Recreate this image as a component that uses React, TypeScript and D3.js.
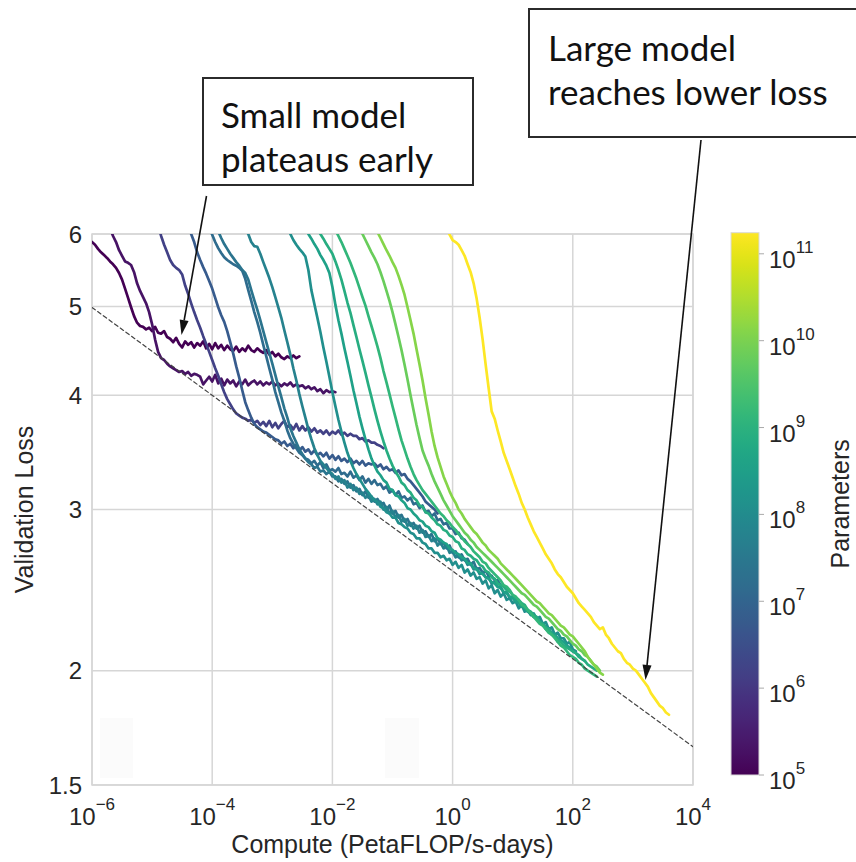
import React from "react";
import * as d3 from "d3";

// Axis ticks
const computeTickExps = [-6, -4, -2, 0, 2, 4];
const lossTicks = [1.5, 2, 3, 4, 5, 6];
const paramTickExps = [5, 6, 7, 8, 9, 10, 11];

// Each run is logged every 0.05 decades of compute, starting at runStartLog10
const LOG_STEP = 0.05;

const modelParams = [1e5, 2e5, 1.6e6, 6e6, 1.5e7, 2.5e7, 6e7, 1.25e8, 3.5e8, 7.6e8, 1.3e9, 6.7e9, 1.3e10, 1.75e11];
const runStartLog10 = [-6.0, -5.7, -4.9, -4.4, -4.05, -3.9, -3.45, -2.75, -2.45, -2.25, -1.95, -1.55, -1.3, -0.1];

const loss100K = [5.88, 5.84, 5.78, 5.73, 5.69, 5.65, 5.6, 5.56, 5.51, 5.44, 5.35, 5.23, 5.11, 4.99, 4.88, 4.8, 4.76, 4.75, 4.72, 4.74, 4.7, 4.75, 4.68, 4.67, 4.7, 4.63, 4.61, 4.57, 4.62, 4.55, 4.51, 4.58, 4.54, 4.57, 4.51, 4.56, 4.53, 4.58, 4.5, 4.55, 4.49, 4.56, 4.5, 4.54, 4.48, 4.53, 4.49, 4.47, 4.52, 4.46, 4.5, 4.47, 4.53, 4.48, 4.46, 4.5, 4.47, 4.45, 4.48, 4.43, 4.46, 4.41, 4.44, 4.4, 4.38, 4.41, 4.39, 4.42, 4.39, 4.41];
const loss200K = [6.09, 5.97, 5.88, 5.76, 5.68, 5.6, 5.58, 5.55, 5.45, 5.3, 5.2, 5.12, 5.04, 4.93, 4.78, 4.6, 4.46, 4.39, 4.37, 4.33, 4.3, 4.28, 4.26, 4.24, 4.25, 4.22, 4.24, 4.2, 4.22, 4.21, 4.19, 4.11, 4.15, 4.19, 4.14, 4.21, 4.12, 4.17, 4.1, 4.16, 4.12, 4.15, 4.09, 4.14, 4.11, 4.16, 4.1, 4.13, 4.15, 4.11, 4.14, 4.1, 4.13, 4.11, 4.14, 4.1, 4.12, 4.09, 4.12, 4.1, 4.13, 4.09, 4.11, 4.09, 4.1, 4.07, 4.09, 4.06, 4.08, 4.04, 4.06, 4.02, 4.05, 4.03, 4.04, 4.03];
const loss1p6M = [6.13, 5.97, 5.84, 5.73, 5.62, 5.55, 5.51, 5.48, 5.42, 5.27, 5.16, 5.04, 4.93, 4.83, 4.74, 4.64, 4.55, 4.46, 4.37, 4.28, 4.2, 4.11, 4.03, 3.96, 3.91, 3.86, 3.82, 3.8, 3.78, 3.77, 3.75, 3.76, 3.73, 3.75, 3.71, 3.74, 3.7, 3.75, 3.69, 3.73, 3.68, 3.72, 3.75, 3.69, 3.71, 3.67, 3.72, 3.66, 3.7, 3.66, 3.69, 3.65, 3.68, 3.64, 3.66, 3.63, 3.66, 3.62, 3.65, 3.63, 3.66, 3.62, 3.64, 3.61, 3.63, 3.61, 3.61, 3.58, 3.59, 3.56, 3.57, 3.55, 3.55, 3.53, 3.52, 3.5];
const loss6M = [6.13, 6.0, 5.88, 5.73, 5.62, 5.52, 5.43, 5.33, 5.23, 5.11, 4.99, 4.89, 4.81, 4.7, 4.57, 4.44, 4.3, 4.18, 4.05, 3.93, 3.85, 3.78, 3.72, 3.69, 3.67, 3.65, 3.64, 3.62, 3.6, 3.58, 3.57, 3.54, 3.56, 3.52, 3.54, 3.5, 3.53, 3.48, 3.51, 3.47, 3.49, 3.45, 3.48, 3.44, 3.46, 3.43, 3.46, 3.41, 3.44, 3.4, 3.43, 3.39, 3.41, 3.38, 3.41, 3.37, 3.39, 3.36, 3.39, 3.35, 3.37, 3.36, 3.37, 3.34, 3.36, 3.32, 3.34, 3.31, 3.32, 3.29, 3.31, 3.27, 3.28, 3.24, 3.22, 3.19, 3.16, 3.13, 3.1, 3.06, 3.04, 3.02, 3.0, 2.97];
const loss15M = [6.09, 5.99, 5.88, 5.79, 5.72, 5.66, 5.62, 5.59, 5.56, 5.54, 5.51, 5.47, 5.36, 5.21, 5.07, 4.93, 4.81, 4.68, 4.54, 4.41, 4.28, 4.16, 4.03, 3.93, 3.83, 3.75, 3.66, 3.59, 3.54, 3.5, 3.46, 3.44, 3.41, 3.4, 3.37, 3.39, 3.35, 3.38, 3.33, 3.36, 3.31, 3.32, 3.3, 3.33, 3.28, 3.29, 3.26, 3.3, 3.25, 3.27, 3.23, 3.26, 3.21, 3.24, 3.2, 3.23, 3.19, 3.2, 3.16, 3.18, 3.13, 3.15, 3.11, 3.14, 3.09, 3.1, 3.07, 3.09, 3.04, 3.05, 3.01, 3.03, 2.98, 2.99, 2.95, 2.97, 2.92, 2.93, 2.89, 2.9, 2.86, 2.86, 2.82, 2.83, 2.79, 2.78, 2.75];
const loss25M = [6.04, 5.94, 5.85, 5.78, 5.71, 5.65, 5.59, 5.54, 5.48, 5.44, 5.35, 5.21, 5.08, 4.96, 4.83, 4.7, 4.57, 4.45, 4.33, 4.21, 4.09, 3.98, 3.87, 3.78, 3.68, 3.61, 3.55, 3.49, 3.45, 3.41, 3.38, 3.36, 3.33, 3.34, 3.3, 3.31, 3.28, 3.3, 3.26, 3.26, 3.22, 3.24, 3.2, 3.22, 3.17, 3.19, 3.14, 3.16, 3.11, 3.14, 3.09, 3.1, 3.06, 3.08, 3.04, 3.05, 3.0, 3.03, 2.97, 2.99, 2.94, 2.96, 2.91, 2.93, 2.88, 2.9, 2.86, 2.88, 2.83, 2.84, 2.8, 2.82, 2.77, 2.79, 2.75, 2.76, 2.72, 2.74, 2.69, 2.7, 2.66, 2.68, 2.64, 2.65, 2.61, 2.63, 2.58, 2.59, 2.56, 2.57, 2.54, 2.54, 2.51, 2.51, 2.48];
const loss60M = [6.07, 6.0, 5.88, 5.82, 5.81, 5.71, 5.59, 5.48, 5.37, 5.25, 5.12, 4.99, 4.86, 4.71, 4.57, 4.43, 4.28, 4.15, 4.01, 3.89, 3.78, 3.67, 3.58, 3.5, 3.44, 3.39, 3.36, 3.33, 3.3, 3.28, 3.24, 3.26, 3.21, 3.23, 3.17, 3.2, 3.15, 3.17, 3.12, 3.13, 3.09, 3.11, 3.06, 3.08, 3.04, 3.06, 3.0, 3.02, 2.97, 2.99, 2.94, 2.96, 2.91, 2.93, 2.88, 2.9, 2.86, 2.88, 2.83, 2.85, 2.8, 2.81, 2.77, 2.79, 2.74, 2.76, 2.72, 2.74, 2.69, 2.7, 2.66, 2.67, 2.64, 2.65, 2.61, 2.62, 2.58, 2.59, 2.55, 2.56, 2.53, 2.53, 2.49, 2.5, 2.47, 2.47, 2.43, 2.44, 2.4, 2.41, 2.38, 2.38, 2.35, 2.35, 2.32, 2.31, 2.29, 2.28, 2.26, 2.25, 2.22, 2.21, 2.19, 2.18, 2.15];
const loss125M = [6.09, 6.0, 5.91, 5.84, 5.78, 5.73, 5.67, 5.48, 5.21, 5.03, 4.86, 4.69, 4.51, 4.35, 4.19, 4.03, 3.89, 3.76, 3.65, 3.55, 3.46, 3.39, 3.33, 3.28, 3.24, 3.2, 3.16, 3.13, 3.1, 3.07, 3.06, 3.02, 3.01, 2.98, 2.97, 2.94, 2.94, 2.9, 2.89, 2.87, 2.86, 2.83, 2.82, 2.79, 2.79, 2.76, 2.75, 2.72, 2.72, 2.69, 2.69, 2.66, 2.67, 2.64, 2.65, 2.61, 2.63, 2.59, 2.61, 2.56, 2.58, 2.54, 2.56, 2.52, 2.53, 2.49, 2.51, 2.46, 2.48, 2.43, 2.45, 2.41, 2.43, 2.39, 2.4, 2.37, 2.38, 2.34, 2.36, 2.32, 2.33, 2.3, 2.31, 2.28, 2.29, 2.25, 2.26, 2.22, 2.23, 2.19, 2.2, 2.17, 2.17, 2.14, 2.15, 2.11, 2.1];
const loss350M = [6.09, 6.0, 5.93, 5.85, 5.78, 5.69, 5.62, 5.54, 5.44, 5.25, 5.02, 4.83, 4.67, 4.5, 4.35, 4.2, 4.05, 3.92, 3.79, 3.68, 3.58, 3.49, 3.41, 3.35, 3.3, 3.27, 3.23, 3.21, 3.16, 3.15, 3.11, 3.1, 3.07, 3.05, 3.01, 3.0, 2.97, 2.95, 2.92, 2.91, 2.88, 2.87, 2.84, 2.83, 2.79, 2.78, 2.76, 2.75, 2.72, 2.71, 2.69, 2.68, 2.66, 2.65, 2.62, 2.62, 2.59, 2.58, 2.56, 2.55, 2.53, 2.52, 2.5, 2.49, 2.47, 2.46, 2.44, 2.43, 2.41, 2.4, 2.38, 2.37, 2.35, 2.34, 2.32, 2.31, 2.29, 2.28, 2.26, 2.25, 2.23, 2.22, 2.2, 2.19, 2.17, 2.16, 2.15, 2.13, 2.12, 2.1, 2.09, 2.08, 2.06, 2.05];
const loss760M = [6.07, 6.0, 5.93, 5.85, 5.78, 5.71, 5.6, 5.48, 5.35, 5.2, 5.05, 4.92, 4.77, 4.63, 4.49, 4.36, 4.23, 4.1, 3.98, 3.86, 3.75, 3.65, 3.56, 3.48, 3.41, 3.35, 3.3, 3.26, 3.21, 3.19, 3.15, 3.13, 3.09, 3.07, 3.03, 3.02, 2.98, 2.97, 2.94, 2.92, 2.89, 2.88, 2.85, 2.84, 2.81, 2.8, 2.77, 2.76, 2.72, 2.71, 2.68, 2.67, 2.65, 2.64, 2.61, 2.6, 2.57, 2.56, 2.53, 2.52, 2.49, 2.48, 2.47, 2.45, 2.44, 2.42, 2.4, 2.39, 2.37, 2.36, 2.33, 2.32, 2.3, 2.29, 2.26, 2.25, 2.23, 2.22, 2.19, 2.18, 2.16, 2.15, 2.13, 2.12, 2.11, 2.1, 2.09, 2.07, 2.06, 2.05, 2.03, 2.02, 2.01, 2.0];
const loss1p3B = [6.06, 5.97, 5.88, 5.78, 5.68, 5.58, 5.47, 5.36, 5.24, 5.12, 5.01, 4.88, 4.76, 4.64, 4.52, 4.39, 4.25, 4.13, 4.01, 3.89, 3.78, 3.67, 3.57, 3.49, 3.41, 3.34, 3.28, 3.23, 3.19, 3.15, 3.12, 3.09, 3.06, 3.03, 3.0, 2.97, 2.95, 2.92, 2.9, 2.87, 2.85, 2.82, 2.8, 2.77, 2.75, 2.73, 2.7, 2.68, 2.66, 2.63, 2.62, 2.59, 2.57, 2.55, 2.53, 2.51, 2.48, 2.47, 2.45, 2.42, 2.41, 2.39, 2.36, 2.35, 2.33, 2.31, 2.29, 2.27, 2.25, 2.24, 2.22, 2.2, 2.19, 2.17, 2.15, 2.13, 2.12, 2.1, 2.08, 2.07, 2.06, 2.04, 2.03, 2.01, 2.0, 1.99, 1.98, 1.97];
const loss6p7B = [6.09, 6.0, 5.91, 5.82, 5.73, 5.65, 5.56, 5.45, 5.33, 5.2, 5.07, 4.93, 4.78, 4.63, 4.48, 4.32, 4.16, 4.0, 3.85, 3.71, 3.59, 3.48, 3.41, 3.35, 3.28, 3.22, 3.17, 3.12, 3.07, 3.03, 2.99, 2.95, 2.92, 2.89, 2.86, 2.83, 2.81, 2.78, 2.76, 2.73, 2.71, 2.69, 2.67, 2.65, 2.63, 2.61, 2.59, 2.57, 2.55, 2.53, 2.51, 2.49, 2.47, 2.45, 2.43, 2.42, 2.4, 2.38, 2.36, 2.35, 2.33, 2.31, 2.29, 2.28, 2.26, 2.24, 2.22, 2.21, 2.19, 2.18, 2.16, 2.14, 2.13, 2.11, 2.1, 2.08, 2.07, 2.05, 2.03, 2.02, 2.0];
const loss13B = [6.12, 6.03, 5.94, 5.85, 5.76, 5.68, 5.59, 5.51, 5.4, 5.28, 5.15, 4.99, 4.83, 4.67, 4.49, 4.32, 4.15, 3.97, 3.81, 3.65, 3.52, 3.42, 3.34, 3.26, 3.2, 3.14, 3.09, 3.05, 3.0, 2.97, 2.93, 2.9, 2.87, 2.84, 2.82, 2.79, 2.76, 2.74, 2.71, 2.69, 2.67, 2.65, 2.62, 2.6, 2.58, 2.56, 2.54, 2.52, 2.5, 2.48, 2.46, 2.44, 2.42, 2.4, 2.38, 2.37, 2.35, 2.33, 2.31, 2.3, 2.28, 2.26, 2.24, 2.23, 2.21, 2.19, 2.18, 2.16, 2.14, 2.12, 2.1, 2.07, 2.05, 2.03, 2.01, 1.99, 1.98];
const loss175B = [6.07, 5.99, 5.91, 5.88, 5.84, 5.76, 5.68, 5.56, 5.45, 5.3, 5.1, 4.86, 4.6, 4.32, 4.07, 3.84, 3.77, 3.66, 3.56, 3.46, 3.39, 3.32, 3.25, 3.18, 3.12, 3.05, 3.0, 2.94, 2.89, 2.84, 2.8, 2.76, 2.72, 2.68, 2.65, 2.62, 2.58, 2.55, 2.53, 2.5, 2.47, 2.45, 2.43, 2.4, 2.37, 2.35, 2.33, 2.31, 2.29, 2.26, 2.24, 2.22, 2.23, 2.19, 2.17, 2.14, 2.12, 2.1, 2.09, 2.06, 2.04, 2.03, 2.01, 2.0, 1.98, 1.96, 1.94, 1.92, 1.89, 1.87, 1.85, 1.83, 1.82, 1.8, 1.79];

const lossRuns = [loss100K, loss200K, loss1p6M, loss6M, loss15M, loss25M, loss60M, loss125M, loss350M, loss760M, loss1p3B, loss6p7B, loss13B, loss175B];

// Compute-efficient frontier: L = 2.57 * C^-0.048
const frontierCoef = 2.57;
const frontierExp = -0.048;
const frontierRange = [1e-6, 1e4];

const AXIS_FONT = "'Liberation Sans', Arial, Helvetica, sans-serif";
const NOTE_FONT = "Lato, 'Open Sans', sans-serif";
const TEXT_COLOR = "#262626";
const GRID_COLOR = "#d6d6d6";

function Arrow({ x1, y1, x2, y2 }: { x1: number; y1: number; x2: number; y2: number }) {
  const ang = Math.atan2(y2 - y1, x2 - x1);
  const hl = 15;
  const hw = 4.5;
  const bx = x2 - hl * Math.cos(ang);
  const by = y2 - hl * Math.sin(ang);
  const px = -Math.sin(ang) * hw;
  const py = Math.cos(ang) * hw;
  return (
    <g>
      <line x1={x1} y1={y1} x2={bx} y2={by} stroke="#111" strokeWidth={1.6} />
      <polygon points={`${x2},${y2} ${bx + px},${by + py} ${bx - px},${by - py}`} fill="#111" />
    </g>
  );
}

function Pow10({ exp, ...rest }: any) {
  const e = exp < 0 ? `\u2212${-exp}` : `${exp}`;
  return (
    <text {...rest} fontFamily={AXIS_FONT} fill={TEXT_COLOR}>
      <tspan fontSize={24}>10</tspan>
      <tspan fontSize={17} dy={-15}>{e}</tspan>
    </text>
  );
}

export default function App() {
  const left = 92, right = 693, top = 234, bottom = 785;
  const cbLeft = 731, cbRight = 759, cbTop = 232.7, cbBottom = 775;

  const x = d3.scaleLog().domain([1e-6, 1e4]).range([left, right]);
  const y = d3.scaleLog().domain([1.5, 6]).range([bottom, top]);
  const pMin = 1e5, pMax = 1.75e11;
  const py = d3.scaleLog().domain([pMin, pMax]).range([cbBottom, cbTop]);
  const color = d3.scaleSequentialLog(d3.interpolateViridis).domain([pMin, pMax]);

  const line = d3
    .line<[number, number]>()
    .x((d) => x(d[0]))
    .y((d) => y(d[1]));

  const runs = lossRuns.map((losses, i) => ({
    params: modelParams[i],
    points: losses.map((l, j) => [Math.pow(10, runStartLog10[i] + j * LOG_STEP), l] as [number, number]),
  }));

  const frontierPts = frontierRange.map((c) => [c, frontierCoef * Math.pow(c, frontierExp)] as [number, number]);

  const stops = d3.range(0, 1.0001, 0.02);

  return (
    <svg
      width={856}
      height={862}
      style={{ position: "absolute", left: 0, top: 0, background: "#fff" }}
      xmlns="http://www.w3.org/2000/svg"
    >
      <defs>
        <clipPath id="plotClip">
          <rect x={left} y={top} width={right - left} height={bottom - top} />
        </clipPath>
        <linearGradient id="viridisBar" x1="0" y1="1" x2="0" y2="0">
          {stops.map((t) => (
            <stop key={t} offset={t} stopColor={d3.interpolateViridis(t)} />
          ))}
        </linearGradient>
      </defs>
      <rect x={0} y={0} width={856} height={862} fill="#fff" />

      {/* grid */}
      {computeTickExps.map((e) => (
        <line key={`gx${e}`} x1={x(10 ** e)} x2={x(10 ** e)} y1={top} y2={bottom} stroke={GRID_COLOR} strokeWidth={1.5} />
      ))}
      {lossTicks.map((v) => (
        <line key={`gy${v}`} x1={left} x2={right} y1={y(v)} y2={y(v)} stroke={GRID_COLOR} strokeWidth={1.5} />
      ))}
      <rect x={left} y={top} width={right - left} height={bottom - top} fill="none" stroke={GRID_COLOR} strokeWidth={1.5} />

      <rect x={100} y={718} width={33} height={60} fill="#fbfbfb" />
      <rect x={385} y={718} width={34} height={60} fill="#fbfbfb" />

      {/* training curves */}
      <g clipPath="url(#plotClip)" fill="none" strokeWidth={2.7} strokeLinejoin="round" strokeLinecap="round">
        {runs.map((r, i) => (
          <path key={i} d={line(r.points) || ""} stroke={color(r.params)} />
        ))}
        <path d={line(frontierPts) || ""} stroke="#444" strokeWidth={1.2} strokeDasharray="4 3" />
      </g>

      {/* y tick labels */}
      {lossTicks.map((v) => (
        <text
          key={`ty${v}`}
          x={82}
          y={y(v) + 8.5}
          textAnchor="end"
          fontFamily={AXIS_FONT}
          fontSize={24}
          fill={TEXT_COLOR}
        >
          {String(v)}
        </text>
      ))}
      {/* x tick labels */}
      {computeTickExps.map((e) => (
        <Pow10 key={`tx${e}`} exp={e} x={x(10 ** e)} y={825} textAnchor="middle" />
      ))}

      <text
        x={(left + right) / 2}
        y={853}
        textAnchor="middle"
        fontFamily={AXIS_FONT}
        fontSize={25}
        fill={TEXT_COLOR}
      >
        Compute (PetaFLOP/s-days)
      </text>
      <text
        transform={`translate(33,${(top + bottom) / 2}) rotate(-90)`}
        textAnchor="middle"
        fontFamily={AXIS_FONT}
        fontSize={25}
        fill={TEXT_COLOR}
      >
        Validation Loss
      </text>

      {/* colorbar */}
      <rect x={cbLeft} y={cbTop} width={cbRight - cbLeft} height={cbBottom - cbTop} fill="url(#viridisBar)" stroke="#d9d9d9" strokeWidth={1} />
      {paramTickExps.map((e) => (
        <g key={`cb${e}`}>
          <line x1={cbRight} x2={cbRight + 5} y1={py(10 ** e)} y2={py(10 ** e)} stroke="#aaa" strokeWidth={1} />
          <Pow10 exp={e} x={769} y={py(10 ** e) + 14} textAnchor="start" />
        </g>
      ))}
      <text
        transform={`translate(849,${(cbTop + cbBottom) / 2}) rotate(-90)`}
        textAnchor="middle"
        fontFamily={AXIS_FONT}
        fontSize={25}
        fill={TEXT_COLOR}
      >
        Parameters
      </text>

      {/* annotations */}
      <rect x={203} y={78} width={270} height={107} fill="#fff" stroke="#2b2b2b" strokeWidth={2} />
      <text fontFamily={NOTE_FONT} fontSize={35} fill="#111">
        <tspan x={221} y={128}>Small model</tspan>
        <tspan x={221} y={172}>plateaus early</tspan>
      </text>
      <rect x={529} y={9} width={340} height={128} fill="#fff" stroke="#2b2b2b" strokeWidth={2} />
      <text fontFamily={NOTE_FONT} fontSize={35} fill="#111">
        <tspan x={548} y={61}>Large model</tspan>
        <tspan x={548} y={105}>reaches lower loss</tspan>
      </text>

      <Arrow x1={206.5} y1={196} x2={181.5} y2={335} />
      <Arrow x1={701} y1={140} x2={645.5} y2={680} />
    </svg>
  );
}
